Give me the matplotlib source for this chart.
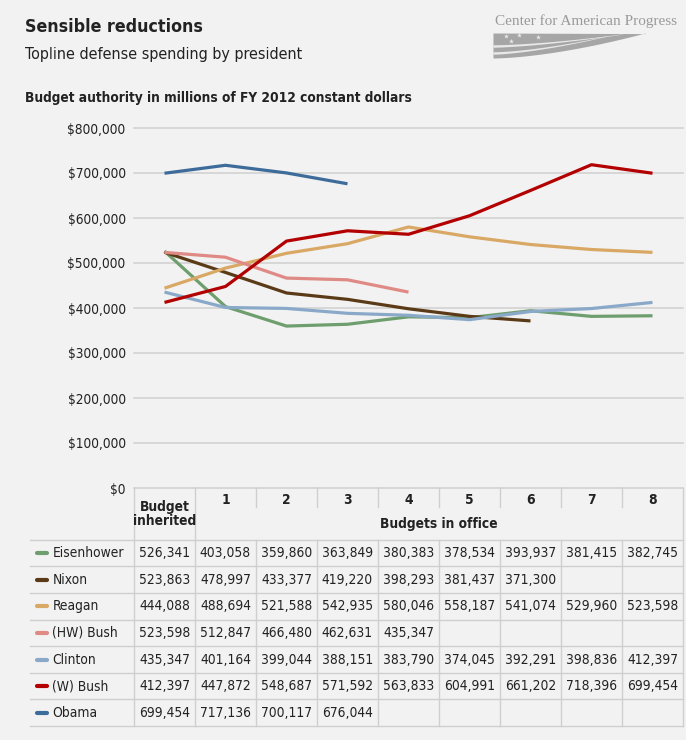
import matplotlib
matplotlib.use('Agg')
import matplotlib.pyplot as plt
import numpy as np

# Topline defense spending by president (budget authority, FY2012 $M)
presidents = ['Eisenhower', 'Nixon', 'Reagan', '(HW) Bush', 'Clinton', '(W) Bush', 'Obama']
eisenhower = [526341, 403058, 359860, 363849, 380383, 378534, 393937, 381415, 382745]
nixon = [523863, 478997, 433377, 419220, 398293, 381437, 371300]
reagan = [444088, 488694, 521588, 542935, 580046, 558187, 541074, 529960, 523598]
hw_bush = [523598, 512847, 466480, 462631, 435347]
clinton = [435347, 401164, 399044, 388151, 383790, 374045, 392291, 398836, 412397]
w_bush = [412397, 447872, 548687, 571592, 563833, 604991, 661202, 718396, 699454]
obama = [699454, 717136, 700117, 676044]
series = [eisenhower, nixon, reagan, hw_bush, clinton, w_bush, obama]
colors = ['#6e9e6e', '#5b3b17', '#d9a864', '#e08a86', '#8aa9c9', '#b30000', '#3e6c9a']
col_labels = ['1', '2', '3', '4', '5', '6', '7', '8']
yticks = [0, 100000, 200000, 300000, 400000, 500000, 600000, 700000, 800000]

bg = '#f2f2f2'
txt = '#222222'
grid = '#cfcfcf'
plt.rcParams['font.family'] = ['DejaVu Sans']
plt.rcParams['font.stretch'] = 'condensed'

W, H = 686, 740
fig = plt.figure(figsize=(W / 100, H / 100), dpi=100, facecolor=bg)

# header texts
fig.text(25 / W, 1 - 27 / H, 'Sensible reductions', fontsize=12.8, fontweight='bold',
         color=txt, va='center')
fig.text(25 / W, 1 - 54 / H, 'Topline defense spending by president', fontsize=11.5,
         color=txt, va='center')
fig.text(25 / W, 1 - 98 / H, 'Budget authority in millions of FY 2012 constant dollars',
         fontsize=9.8, fontweight='bold', color=txt, va='center')

# logo: name plus a waving flag drawn in a small pixel-space axes
fig.text(677 / W, 1 - 21 / H, 'Center for American Progress', fontsize=11,
         family='Liberation Serif', stretch='normal', color='#9a9a9a', ha='right', va='center')
lax = fig.add_axes([490 / W, 1 - 62 / H, 160 / W, 32 / H])
lax.set_xlim(490, 650)
lax.set_ylim(62, 30)
lax.axis('off')
fx = np.linspace(493, 645, 100)
ft = (fx - 493) / 152
lax.fill_between(fx, 33 + 0.6 * ft, 58 - 25 * ft ** 1.6, color='#a6a6a6', lw=0)
for y0, dy, span in ((46, 12, 0.85), (53, 17, 0.75)):
    sx = np.linspace(493, 493 + 152 * span, 60)
    st = (sx - 493) / (152 * span)
    mid = y0 - dy * st ** 1.5
    half = 1.1 * (1 - st) + 0.15
    lax.fill_between(sx, mid - half, mid + half, color='#e8e8e8', lw=0)
lax.scatter([506, 519, 511, 538], [36, 35, 41, 37], marker='*', s=14, color='#e8e8e8', lw=0)

# chart
ax = fig.add_axes([134 / W, 1 - 488 / H, 549 / W, 364.5 / H])
ax.set_facecolor(bg)
ax.set_xlim(-0.5, 8.5)
ax.set_ylim(0, 810000)
for s in ax.spines.values():
    s.set_visible(False)
for yv in yticks:
    ax.axhline(yv, color=grid, lw=1.1, zorder=1, clip_on=False)
for vals, c in zip(series, colors):
    ax.plot(np.arange(len(vals)), vals, color=c, lw=2.3, zorder=3, solid_capstyle='butt')
ax.set_xticks([])
ax.set_yticks(yticks)
ax.set_yticklabels(['$' + format(v, ',') for v in yticks], fontsize=9.8, color=txt)
ax.tick_params(axis='y', length=0, pad=6)

# table under the chart, sharing x positions with the chart
hh = 1.95
fs = 9.9
tax = fig.add_axes([134 / W, 1 - 726 / H, 549 / W, 238 / H])
tax.set_facecolor('none')
tax.set_xlim(-0.5, 8.5)
tax.set_ylim(hh + 7, 0)
tax.axis('off')
left = -2.2
n = len(presidents)
for k in range(n + 1):
    tax.plot([left, 8.5], [hh + k, hh + k], color=grid, lw=1, clip_on=False)
for xv in np.arange(-0.5, 9.0, 1.0):
    if xv <= 0.5 or xv == 8.5:
        tax.plot([xv, xv], [0, hh + n], color=grid, lw=1, clip_on=False)
    else:
        tax.plot([xv, xv], [0, 0.7], color=grid, lw=1, clip_on=False)
        tax.plot([xv, xv], [hh, hh + n], color=grid, lw=1, clip_on=False)

tax.text(0, 0.98, 'Budget\ninherited', ha='center', va='center', fontsize=fs,
         fontweight='bold', color=txt, linespacing=1.05)
for i, lab in enumerate(col_labels):
    tax.text(i + 1, 0.45, lab, ha='center', va='center', fontsize=fs,
             fontweight='bold', color=txt)
tax.text(4.5, 1.35, 'Budgets in office', ha='center', va='center', fontsize=fs,
         fontweight='bold', color=txt)

for r, (name, vals, c) in enumerate(zip(presidents, series, colors)):
    yc = hh + r + 0.5
    tax.plot([-2.09, -1.93], [yc, yc], color=c, lw=3, solid_capstyle='round', clip_on=False)
    tax.text(-1.84, yc, name, ha='left', va='center', fontsize=fs, color=txt)
    for i, v in enumerate(vals):
        tax.text(i, yc, format(v, ','), ha='center', va='center', fontsize=fs, color=txt)

fig.savefig('out.png', dpi=100, facecolor=bg)
